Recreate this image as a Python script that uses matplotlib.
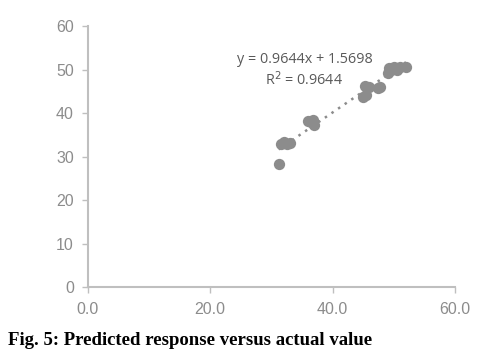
import numpy as np
import matplotlib.pyplot as plt

# actual vs predicted values
actual = [31.2, 31.5, 32.0, 32.6, 33.0, 36.0, 36.5, 37.0, 36.8,
          45.0, 45.5, 45.3, 46.0, 47.5, 47.8, 49.0, 49.5, 50.0, 51.0, 52.0, 50.5, 49.3]
predicted = [28.3, 33.0, 33.3, 33.0, 33.2, 38.3, 38.0, 37.2, 38.5,
             43.8, 44.2, 46.3, 46.0, 45.8, 46.0, 49.3, 50.0, 50.5, 50.5, 50.5, 50.0, 50.3]
slope, intercept = 0.9644, 1.5698
r2 = 0.9644

xticks = [0, 20, 40, 60]
yticks = [0, 10, 20, 30, 40, 50, 60]

fig = plt.figure(figsize=(4.85, 3.58), dpi=100)
ax = fig.add_axes([0.181, 0.198, 0.757, 0.729])

ax.scatter(actual, predicted, s=66, color='#8c8c8c', zorder=3, linewidths=0)

# linear trendline
tx = np.array([min(actual), max(actual)])
ax.plot(tx, slope * tx + intercept, color='#8c8c8c', linestyle=(0, (1, 2.2)),
        linewidth=1.8, zorder=2)

ax.text(0.59, 0.86, 'y = %.4fx + %.4f' % (slope, intercept), transform=ax.transAxes,
        ha='center', fontsize=10.4, color='#595959', family='Open Sans')
ax.text(0.59, 0.775, 'R$^2$ = %.4f' % r2, transform=ax.transAxes,
        ha='center', fontsize=10.4, color='#595959', family='Open Sans')

ax.set_xlim(0, 60)
ax.set_ylim(0, 60)
ax.set_xticks(xticks)
ax.set_xticklabels(['%.1f' % v for v in xticks])
ax.set_yticks(yticks)

for side in ['top', 'right']:
    ax.spines[side].set_visible(False)
for side in ['left', 'bottom']:
    ax.spines[side].set_color('#bfbfbf')
    ax.spines[side].set_linewidth(1.5)
ax.tick_params(colors='#bfbfbf', labelcolor='#8c8c8c', labelsize=11.5, length=4, width=1)
ax.tick_params(axis='x', pad=7)
ax.tick_params(axis='y', pad=6)
for lbl in ax.get_xticklabels() + ax.get_yticklabels():
    lbl.set_family('Liberation Sans')

fig.text(0.017, 0.035, 'Fig. 5: Predicted response versus actual value',
         fontsize=13.5, fontweight='bold', family='Liberation Serif', color='black')

fig.savefig('out.png', dpi=100, facecolor='white')
